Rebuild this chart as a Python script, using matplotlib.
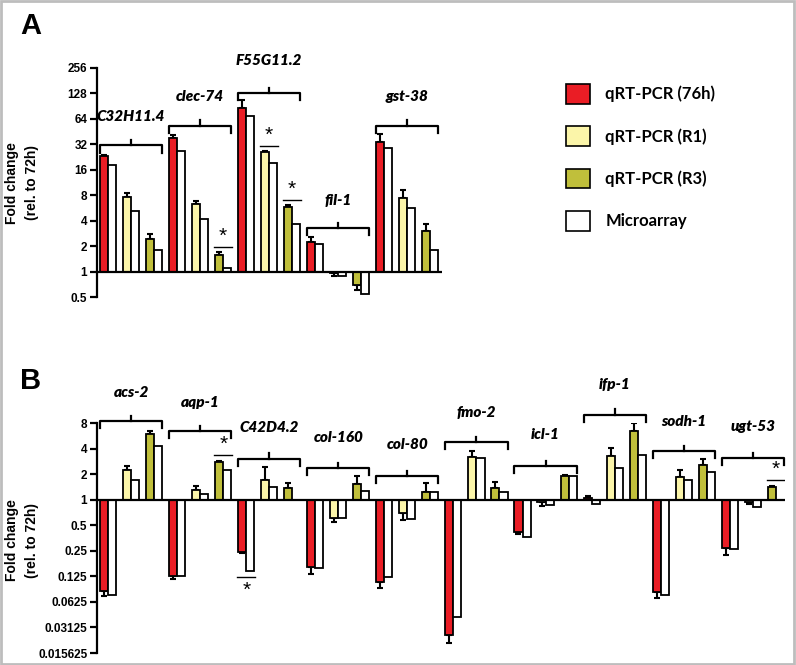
import numpy as np
import matplotlib
matplotlib.use('Agg')
import matplotlib.pyplot as plt
from matplotlib.patches import Patch, Rectangle

# ---- panel A data ----
genes_a = ['C32H11.4', 'clec-74', 'F55G11.2', 'fil-1', 'gst-38']
q76_a = [23.1, 37.7, 87, 2.25, 33.8]
q76_err_a = [24.1, 41, 106, 2.53, 42.5]
m76_a = [18.4, 26.4, 69, 2.09, 29]
r1_a = [7.6, 6.24, 25.7, 0.96, 7.5]
r1_err_a = [8.45, 6.85, 26.4, 0.88, 9.1]
m_r1_a = [5.2, 4.2, 19.2, 0.88, 5.7]
r3_a = [2.45, 1.59, 5.87, 0.69, 3.04]
r3_err_a = [2.75, 1.71, 6.2, 0.60, 3.65]
m_r3_a = [1.78, 1.09, 3.7, 0.54, 1.8]
bracket_a = [31.1, 53.4, 131, 3.25, 53.4]
label_a = [68.6, 119, 311, 6.96, 119]
# (gene, pair, level)
stars_a = [(1, 2, 1.96), (2, 1, 30.9), (2, 2, 7.06)]

# ---- panel B data ----
genes_b = ['acs-2', 'aqp-1', 'C42D4.2', 'col-160', 'col-80', 'fmo-2',
           'icl-1', 'ifp-1', 'sodh-1', 'ugt-53']
q76_b = [0.083, 0.125, 0.24, 0.163, 0.106, 0.0255, 0.415, 1.04, 0.081, 0.27]
q76_err_b = [0.074, 0.117, 0.235, 0.134, 0.091, 0.0206, 0.39, 1.1, 0.070, 0.224]
m76_b = [0.075, 0.125, 0.143, 0.157, 0.122, 0.042, 0.36, 0.89, 0.075, 0.26]
r1_b = [2.26, 1.31, 1.72, 0.61, 0.70, 3.19, 0.95, 3.3, 1.83, 0.94]
r1_err_b = [2.52, 1.46, 2.43, 0.54, 0.58, 3.75, 0.85, 4.1, 2.22, 0.89]
m_r1_b = [1.69, 1.18, 1.4, 0.61, 0.6, 3.1, 0.87, 2.39, 1.69, 0.82]
r3_b = [6.0, 2.78, 1.36, 1.54, 1.22, 1.36, 1.88, 6.5, 2.59, 1.42]
r3_err_b = [6.5, 2.89, 1.57, 1.88, 1.57, 1.62, 1.95, 8.0, 3.02, 1.45]
m_r3_b = [4.3, 2.26, 0.98, 1.25, 1.22, 1.22, 1.92, 3.4, 2.12, 0.98]
bracket_b = [8.4, 6.4, 3.05, 2.36, 1.89, 4.76, 2.48, 10.06, 3.73, 3.1]
label_b = [18.1, 13.9, 7.0, 5.35, 4.47, 10.7, 5.86, 22.6, 8.4, 7.36]
stars_b = [(1, 2, 3.32), (2, 0, 0.122), (9, 2, 1.72)]

ticks_a = [0.5, 1, 2, 4, 8, 16, 32, 64, 128, 256]
ticklabels_a = ['0.5', '1', '2', '4', '8', '16', '32', '64', '128', '256']
ticks_b = [0.015625, 0.03125, 0.0625, 0.125, 0.25, 0.5, 1, 2, 4, 8]
ticklabels_b = ['0.015625', '0.03125', '0.0625', '0.125', '0.25', '0.5',
                '1', '2', '4', '8']

legend_labels = ['qRT-PCR (76h)', 'qRT-PCR (R1)', 'qRT-PCR (R3)', 'Microarray']
colors = ['#ea1d25', '#fbf5a9', '#c0bf3b']

W = 0.35  # bar width in pair units
LW = 1.3
gene_font = dict(family=['Lato', 'DejaVu Sans'], fontweight='heavy',
                 fontstyle='italic', fontsize=11)
tick_font = dict(family=['Liberation Sans', 'DejaVu Sans'], fontweight='bold')


def err_bar(ax, x, val, end):
    if val >= 1:
        yerr = [[0], [max(end - val, 0)]]
    else:
        yerr = [[max(val - end, 0)], [0]]
    ax.errorbar([x], [val], yerr=yerr, fmt='none', ecolor='k',
                elinewidth=1.5, capsize=2.2, capthick=1.5, zorder=1)


def draw_panel(ax, genes, q76, q76e, m76, r1, r1e, mr1, r3, r3e, mr3,
               brackets, labels, stars):
    qvals = [q76, r1, r3]
    qerrs = [q76e, r1e, r3e]
    mvals = [m76, mr1, mr3]
    for g in range(len(genes)):
        for k in range(3):
            p = g * 3 + k
            q = qvals[k][g]
            m = mvals[k][g]
            err_bar(ax, p + W / 2, q, qerrs[k][g])
            ax.bar(p + W / 2, q - 1, bottom=1, width=W, color=colors[k],
                   edgecolor='k', linewidth=LW, zorder=2)
            ax.bar(p + 1.5 * W, m - 1, bottom=1, width=W, color='white',
                   edgecolor='k', linewidth=LW, zorder=2)
        # bracket over the gene group
        x0, x1 = g * 3, g * 3 + 2 + 2 * W
        b = brackets[g]
        ax.plot([x0, x0, x1, x1], [b * 2 ** -0.28, b, b, b * 2 ** -0.28],
                color='k', lw=1.6, clip_on=False, solid_joinstyle='round')
        xc = (x0 + x1) / 2
        ax.plot([xc, xc], [b, b * 2 ** 0.2], color='k', lw=1.6, clip_on=False)
        ax.text(xc, labels[g], genes[g], ha='center', va='center',
                clip_on=False, **gene_font)
    for g, k, lev in stars:
        p = g * 3 + k
        ax.plot([p - 0.05, p + 2 * W + 0.05], [lev, lev], color='k', lw=1.0)
        if lev >= 1:
            ax.text(p + W, lev * 2 ** 0.05, '*', ha='center', va='bottom',
                    fontsize=15, family=['Liberation Sans'])
        else:
            ax.text(p + W, lev * 2 ** -0.15, '*', ha='center', va='top',
                    fontsize=15, family=['Liberation Sans'])
    ax.axhline(1, color='k', lw=1.6, zorder=3)
    ax.set_yscale('log', base=2)
    for s in ['top', 'right', 'bottom']:
        ax.spines[s].set_visible(False)
    ax.spines['left'].set_linewidth(1.6)
    ax.set_xticks([])
    ax.minorticks_off()
    ax.tick_params(axis='y', length=5, width=1.6, labelsize=8.5, pad=2)


fig = plt.figure(figsize=(7.96, 6.65), dpi=100)
H = 665.0
Wf = 796.0

axA = fig.add_axes([97 / Wf, (H - 297) / H, 345 / Wf, 229 / H])
draw_panel(axA, genes_a, q76_a, q76_err_a, m76_a, r1_a, r1_err_a, m_r1_a,
           r3_a, r3_err_a, m_r3_a, bracket_a, label_a, stars_a)
axA.set_ylim(0.5, 256)
axA.set_xlim(-3 / 23, 14.87)
axA.set_yticks(ticks_a)
axA.set_yticklabels(ticklabels_a, **tick_font)

axB = fig.add_axes([97 / Wf, (H - 653) / H, 688 / Wf, 230 / H])
draw_panel(axB, genes_b, q76_b, q76_err_b, m76_b, r1_b, r1_err_b, m_r1_b,
           r3_b, r3_err_b, m_r3_b, bracket_b, label_b, stars_b)
axB.set_ylim(1 / 64, 8)
axB.set_xlim(-3 / 23, 29.75)
axB.set_yticks(ticks_b)
axB.set_yticklabels(ticklabels_b, **tick_font)

# y labels
for yc in [183, 540]:
    fig.text(22 / Wf, (H - yc) / H, 'Fold change\n(rel. to 72h)', rotation=90,
             ha='center', va='center', fontsize=10, fontweight='bold',
             linespacing=1.55, family=['Liberation Sans', 'DejaVu Sans'])

# panel letters
fig.text(20 / Wf, (H - 26) / H, 'A', fontsize=21, fontweight='bold',
         va='center', family=['Liberation Sans', 'DejaVu Sans'])
fig.text(20 / Wf, (H - 381) / H, 'B', fontsize=21, fontweight='bold',
         va='center', family=['Liberation Sans', 'DejaVu Sans'])

# legend
handles = [Patch(facecolor=c, edgecolor='k', linewidth=1.2)
           for c in colors + ['white']]
fig.legend(handles, legend_labels, loc='upper left',
           bbox_to_anchor=(566 / Wf, (H - 84) / H), frameon=False,
           prop=dict(family=['Lato', 'DejaVu Sans'], weight='bold', size=12),
           handlelength=1.45, handleheight=1.45, labelspacing=1.35,
           handletextpad=0.9, borderpad=0, borderaxespad=0)

# outer frame
fig.patches.append(Rectangle((0.001, 0.002), 0.997, 0.996, transform=fig.transFigure,
                             fill=False, edgecolor='#bdbdbd', linewidth=2))

fig.savefig('out.png', dpi=100)
